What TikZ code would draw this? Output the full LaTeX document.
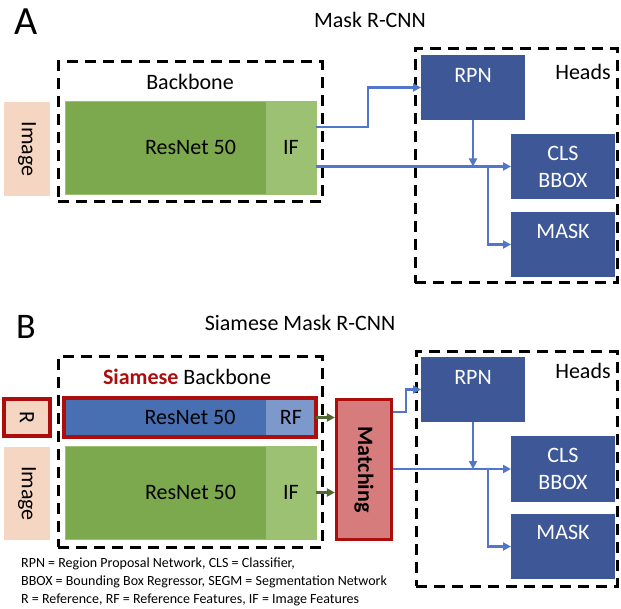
\documentclass[tikz,border=0pt]{standalone}
\usepackage{fontspec}
\setmainfont{Carlito}
\usetikzlibrary{arrows.meta}
\definecolor{peach}{RGB}{244,214,194}
\definecolor{resgreen}{RGB}{124,169,78}
\definecolor{ifgreen}{RGB}{157,193,115}
\definecolor{resblue}{RGB}{72,111,177}
\definecolor{rfblue}{RGB}{125,153,204}
\definecolor{headblue}{RGB}{61,87,151}
\definecolor{flowblue}{RGB}{82,118,204}
\definecolor{feedgreen}{RGB}{80,105,50}
\definecolor{sred}{RGB}{172,14,14}
\definecolor{matchred}{RGB}{214,124,124}
\tikzset{
  txt/.style      = {font=\fontsize{22}{27}\selectfont, inner sep=0pt},
  box/.style      = {txt, anchor=north west, outer sep=0pt, align=center},
  inbox/.style    = {txt, fill=peach, rotate=-90, anchor=center},
  resbox/.style   = {box, fill=resgreen, draw=ifgreen, line width=0.8pt},
  featbox/.style  = {box, fill=ifgreen},
  headbox/.style  = {box, fill=headblue, text=white, minimum width=104pt, minimum height=65pt},
  headtxt/.style  = {txt, text=white, anchor=center},
  dashbox/.style  = {box, draw=black, line width=3pt, dash pattern=on 11pt off 7pt},
  redframe/.style = {draw=sred, line width=3.2pt},
  flow/.style     = {draw=flowblue, line width=2.7pt, -{Triangle[length=8pt,width=8pt]}},
  feed/.style     = {draw=feedgreen, line width=2.7pt, -{Triangle[length=8pt,width=8pt]}},
}
\begin{document}
\begin{tikzpicture}[x=1pt, y=-1pt]
  \useasboundingbox (0,0) rectangle (621,609);

  % panel A
  \node[txt, font=\fontsize{40}{40}\selectfont] (la) at (26,22) {A};
  \node[txt] (ta) at (370,20) {Mask R-CNN};

  \node[dashbox, minimum width=264pt, minimum height=140pt,
        label={[txt, anchor=center, yshift=-20pt]north:Backbone}] (bbA) at (58,62) {};
  \node[inbox, minimum width=94pt, minimum height=46pt] (imgA) at (27,149) {Image};
  \node[resbox, minimum width=251pt, minimum height=93pt] (resA) at (65,101) {ResNet 50};
  \node[featbox, minimum width=50pt, minimum height=93pt] (ifA) at (266,101) {IF};

  \node[dashbox, minimum width=202pt, minimum height=234pt,
        label={[txt, anchor=center, xshift=-34pt, yshift=-23pt]north east:Heads}] (hdA) at (415,49) {};
  \node[headbox, label={[headtxt, yshift=-20pt]north:RPN}] (rpnA) at (421,55) {};
  \node[headbox] (clsA) at (511,134) {CLS\\BBOX};
  \node[headbox, label={[headtxt, yshift=-19pt]north:MASK}] (maskA) at (511,212) {};

  \coordinate (brA) at ([xshift=-23pt]clsA.west);
  \draw[flow] ([yshift=20.5pt]ifA.east) -- ++(52,0) |- (rpnA.west);
  \draw[flow] (ifA.east |- clsA.west) -- (clsA.west);
  \draw[flow] (rpnA.south) -- (rpnA.south |- clsA.west);
  \draw[flow] (brA) |- (maskA.west);

  % panel B
  \node[txt, font=\fontsize{36}{36}\selectfont] (lb) at (26,327) {B};
  \node[txt] (tb) at (300,323) {Siamese Mask R-CNN};

  \node[dashbox, minimum width=264pt, minimum height=190pt,
        label={[txt, anchor=center, xshift=-3pt, yshift=-20pt]north:{\textcolor{sred}{\bfseries Siamese} Backbone}}] (bbB) at (58,357) {};
  \node[inbox, redframe, minimum width=37pt, minimum height=46pt] (rB) at (27,417.5) {R};
  \node[box, fill=resblue, minimum width=252pt, minimum height=39pt] (resR) at (64,398) {ResNet 50};
  \node[box, fill=rfblue, minimum width=50pt, minimum height=39pt] (rfB) at (266,398) {RF};
  \draw[redframe] (resR.north west) rectangle (resR.south east);
  \node[inbox, minimum width=93pt, minimum height=46pt] (imgB) at (27,493.5) {Image};
  \node[resbox, minimum width=251pt, minimum height=93pt] (resI) at (65,446) {ResNet 50};
  \node[featbox, minimum width=50pt, minimum height=93pt] (ifB) at (266,446) {IF};

  \node[txt, fill=matchred, redframe, rotate=-90, minimum width=140pt, minimum height=55pt,
        font=\fontsize{22}{27}\selectfont\bfseries] (match) at (364,469.5) {Matching};

  \draw[feed] (rfB.east) -- (match.south |- rfB.east);
  \draw[feed] (ifB.east) -- (match.south |- ifB.east);

  \node[dashbox, minimum width=201pt, minimum height=234pt,
        label={[txt, anchor=center, xshift=-34pt, yshift=-19pt]north east:Heads}] (hdB) at (416,352) {};
  \node[headbox, label={[headtxt, yshift=-20pt]north:RPN}] (rpnB) at (421,357) {};
  \node[headbox, minimum height=66pt] (clsB) at (511,436) {CLS\\BBOX};
  \node[headbox, label={[headtxt, yshift=-18pt]north:MASK}] (maskB) at (511,514) {};

  \coordinate (brB) at ([xshift=-23pt]clsB.west);
  \draw[flow] ([yshift=57.5pt]match.north) -- ++(13,0) |- (rpnB.west);
  \draw[flow] (match.north |- clsB.west) -- (clsB.west);
  \draw[flow] (rpnB.south) -- (rpnB.south |- clsB.west);
  \draw[flow] (brB) |- (maskB.west);

  % key
  \node[txt, font=\fontsize{14}{18}\selectfont, anchor=west, align=left] (key) at (21,581.5)
    {RPN = Region Proposal Network, CLS = Classifier,\\
     BBOX = Bounding Box Regressor, SEGM = Segmentation Network\\
     R = Reference, RF = Reference Features, IF = Image Features};
\end{tikzpicture}
\end{document}
